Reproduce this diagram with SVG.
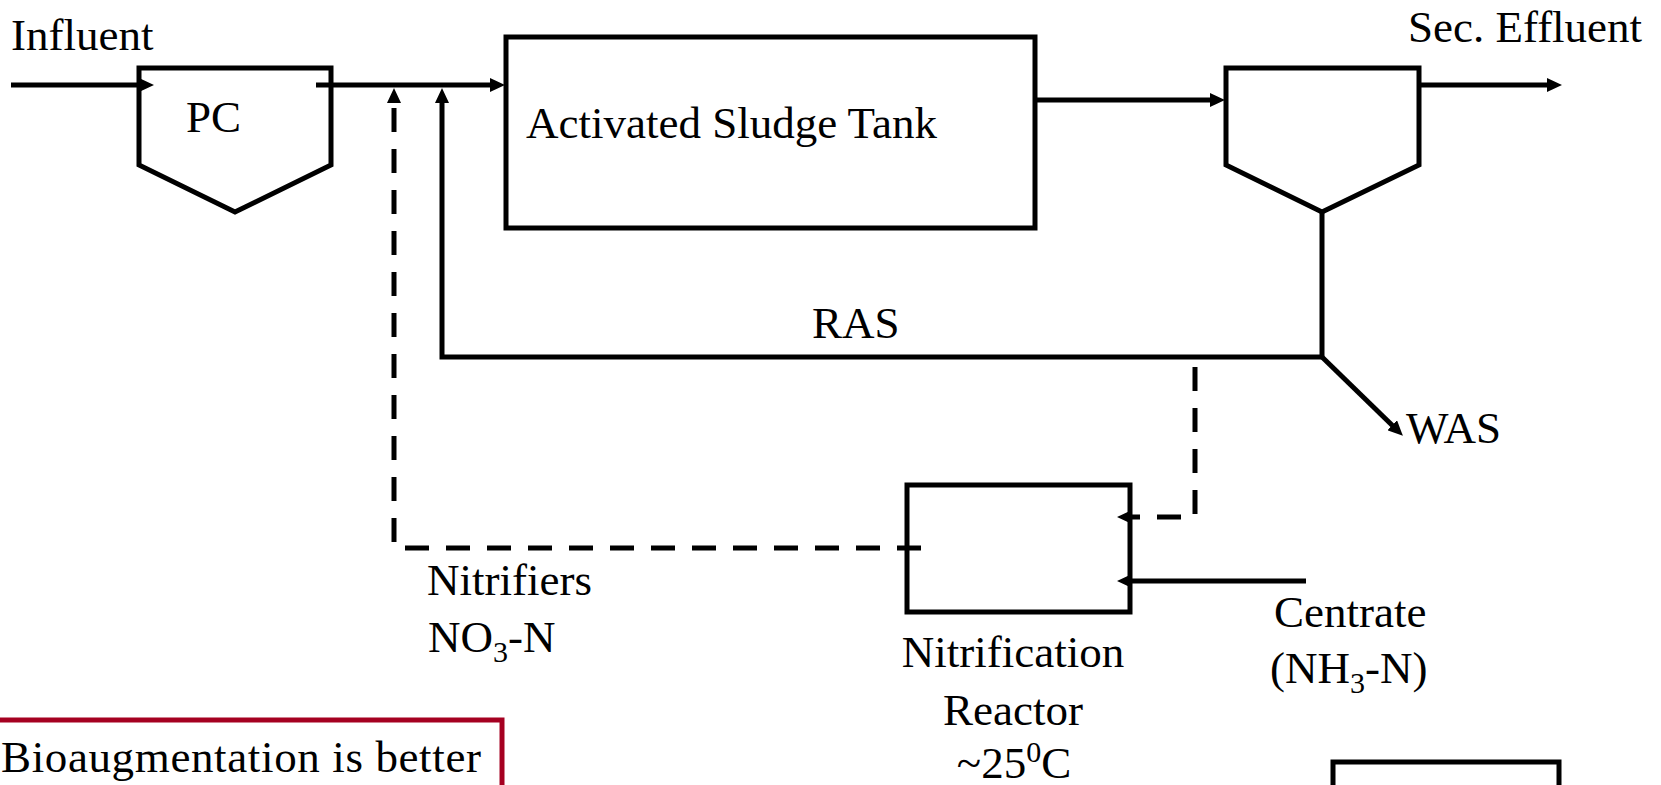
<svg xmlns="http://www.w3.org/2000/svg" width="1661" height="785" viewBox="0 0 1661 785">
<style>
.ln{fill:none;stroke:#000;stroke-width:5}
.ds{fill:none;stroke:#000;stroke-width:5;stroke-dasharray:24 17}
.bx{fill:#fff;stroke:#000;stroke-width:5}
.t{font-family:"Liberation Serif","Times New Roman",serif;font-size:45px;fill:#000}
.m{text-anchor:middle}
.sub{font-size:30px}
</style>
<defs>
<marker id="ah" markerUnits="userSpaceOnUse" markerWidth="15" markerHeight="14" refX="4" refY="7" orient="auto">
<path d="M0,0 L15,7 L0,14 Z" fill="#000"/>
</marker>
</defs>
<rect width="1661" height="785" fill="#fff"/>
<g id="pc">
<polygon class="bx" points="139,68 331,68 331,165 235,212 139,165"/>
<text class="t" x="186" y="132">PC</text>
</g>
<g id="ast">
<rect class="bx" x="506" y="37" width="529" height="191"/>
<text class="t" x="526" y="138">Activated Sludge Tank</text>
</g>
<g id="clarifier">
<polygon class="bx" points="1226,68 1419,68 1419,165 1322,212 1226,165"/>
</g>
<g id="reactor">
<rect class="bx" x="907" y="485" width="223" height="127"/>
<text class="t m" x="1013" y="667">Nitrification</text>
<text class="t m" x="1013" y="725">Reactor</text>
<text class="t m" x="1014" y="778">~25<tspan class="sub" dy="-16">0</tspan><tspan dy="16">C</tspan></text>
</g>
<g id="connectors">
<line class="ln" x1="11" y1="85" x2="143" y2="85" marker-end="url(#ah)"/>
<line class="ln" x1="316" y1="85" x2="494" y2="85" marker-end="url(#ah)"/>
<line class="ln" x1="1035" y1="100" x2="1214" y2="100" marker-end="url(#ah)"/>
<line class="ln" x1="1419" y1="85" x2="1551" y2="85" marker-end="url(#ah)"/>
<polyline class="ln" points="1322,212 1322,357 442,357 442,99" marker-end="url(#ah)"/>
<line class="ln" x1="1322" y1="357" x2="1395" y2="428" marker-end="url(#ah)"/>
<polyline class="ds" points="921,548 394,548 394,99" marker-end="url(#ah)"/>
<polyline class="ds" points="1195,367 1195,517 1128,517" marker-end="url(#ah)"/>
<line class="ln" x1="1306" y1="581" x2="1128" y2="581" marker-end="url(#ah)"/>
</g>
<g id="labels">
<text class="t" x="11" y="50">Influent</text>
<text class="t" x="1408" y="42">Sec. Effluent</text>
<text class="t" x="812" y="338">RAS</text>
<text class="t" x="1406" y="443">WAS</text>
<text class="t" x="427" y="595">Nitrifiers</text>
<text class="t" x="428" y="652">NO<tspan class="sub" dy="10">3</tspan><tspan dy="-10">-N</tspan></text>
<text class="t" x="1274" y="627">Centrate</text>
<text class="t" x="1270" y="683">(NH<tspan class="sub" dy="10">3</tspan><tspan dy="-10">-N)</tspan></text>
</g>
<g id="note">
<rect x="-10" y="720" width="512" height="100" fill="#fff" stroke="#A50021" stroke-width="5"/>
<text class="t" x="1" y="772" textLength="480" lengthAdjust="spacing">Bioaugmentation is better</text>
</g>
<g id="box2">
<rect class="bx" x="1333" y="762" width="226" height="60"/>
</g>
</svg>
